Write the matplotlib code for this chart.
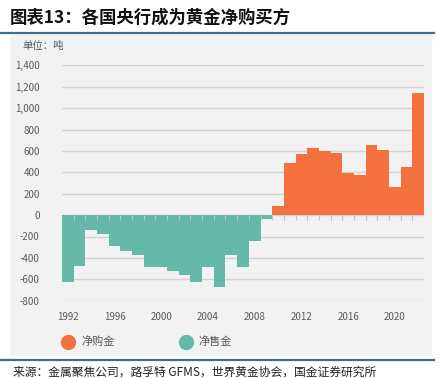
import matplotlib.pyplot as plt
import numpy as np

plt.rcParams['font.family'] = ['Noto Sans CJK SC', 'DejaVu Sans']

years = np.arange(1992, 2023)
net_tonnes = [-625, -475, -138, -172, -285, -335, -369, -482, -487, -525,
              -556, -625, -487, -669, -369, -487, -238, -32, 81, 484,
              572, 631, 603, 581, 396, 378, 659, 609, 259, 453, 1143]
y_ticks = [-800, -600, -400, -200, 0, 200, 400, 600, 800, 1000, 1200, 1400]
x_ticks = [1992, 1996, 2000, 2004, 2008, 2012, 2016, 2020]

orange = '#F4703F'
teal = '#66B8A8'
panel = '#F2F2F2'
txt = '#595959'

fig = plt.figure(figsize=(4.4, 3.78), dpi=100)
fig.patch.set_facecolor('white')

# grey panel behind the chart
fig.patches.append(plt.Rectangle((11/440, 1-355/378), 420/440, 320/378,
                                 transform=fig.transFigure, color=panel, zorder=-5))
# rules above and below
fig.add_artist(plt.Line2D([0, 434/440], [1-33/378]*2, color='#3E6E8E', lw=1.6))
fig.add_artist(plt.Line2D([0, 434/440], [1-360/378]*2, color='#3E6E8E', lw=1.6))

fig.text(10/440, 1-18/378, '图表13：各国央行成为黄金净购买方', fontsize=12.5,
         fontweight='bold', style='italic', va='center', ha='left', color='#111111')
fig.text(22/440, 1-46/378, '单位：吨', fontsize=7.5, style='italic',
         va='center', color=txt)
fig.text(13/440, 1-372/378, '来源：金属聚焦公司，路孚特 GFMS，世界黄金协会，国金证券研究所',
         fontsize=8.5, va='center', color='#222222')

ax = fig.add_axes([62/440, 1-300.7/378, 362/440, (300.7-65.3)/378])
ax.set_facecolor('none')
ax.set_zorder(2)

vals = np.array(net_tonnes)
colors = [orange if v > 0 else teal for v in vals]
ax.bar(years, vals, width=1.0, color=colors, zorder=2)

# small category ticks on the zero line
ax.vlines(years[1:] - 0.5, -45, 0, color='#c4c4c4', lw=0.8, zorder=3)

ax.set_xlim(years[0] - 0.5, years[-1] + 0.5)
ax.set_ylim(-800, 1400)
ax.set_yticks(y_ticks)
ax.set_yticklabels([f'{t:,}' for t in y_ticks])
ax.set_xticks(x_ticks)
ax.grid(axis='y', color='#d2d2d2', lw=1.0, zorder=1)
ax.set_axisbelow(True)
ax.tick_params(length=0, labelsize=7, colors=txt)
ax.tick_params(axis='y', pad=16)
ax.tick_params(axis='x', pad=8)
for s in ax.spines.values():
    s.set_visible(False)

# legend
fig.add_artist(plt.Line2D([68/440], [1-342/378], marker='o', markersize=10,
                          color=orange, linestyle='none'))
fig.text(81/440, 1-342/378, '净购金', fontsize=8, va='center', color=txt)
fig.add_artist(plt.Line2D([186/440], [1-342/378], marker='o', markersize=10,
                          color=teal, linestyle='none'))
fig.text(198/440, 1-342/378, '净售金', fontsize=8, va='center', color=txt)

fig.savefig('out.png', dpi=100, facecolor='white')
